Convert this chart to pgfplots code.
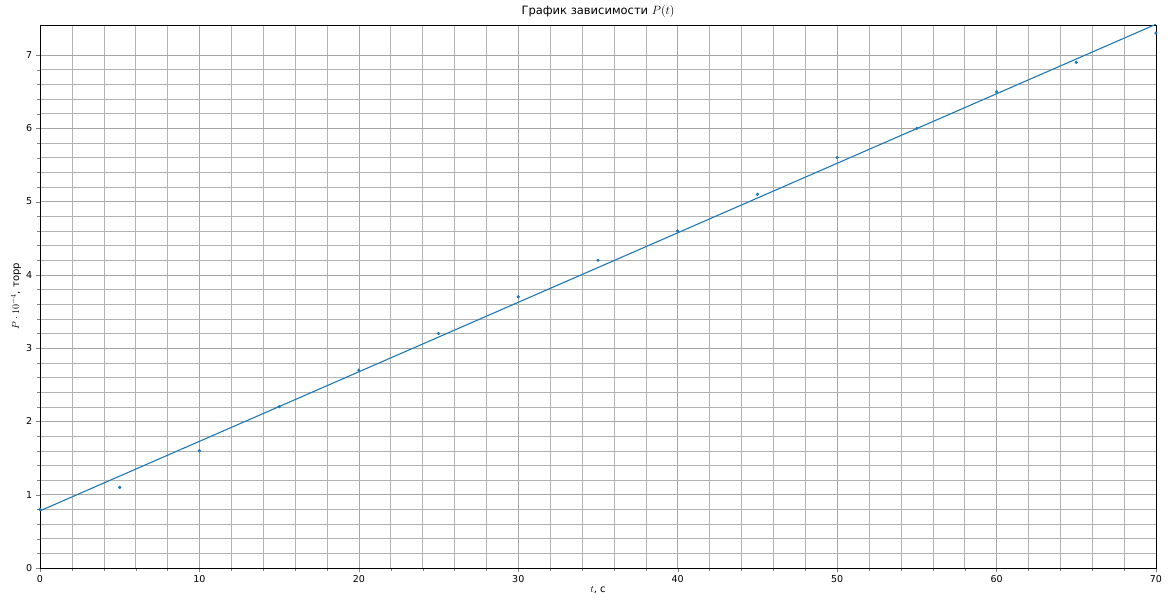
\documentclass[border=0pt]{standalone}
\usepackage{pgfplots}
\pgfplotsset{compat=1.18}
\usepackage{fontspec}
\setmainfont{DejaVu Sans}
\definecolor{mplblue}{HTML}{1F77B4}
\begin{document}
\begin{tikzpicture}
\begin{axis}[
  scale only axis, width=1116pt, height=543pt, anchor=south west, at={(0,0)},
  xmin=0, xmax=70, ymin=0, ymax=7.41,
  xtick={0,10,...,70}, ytick={0,1,...,7},
  minor x tick num=4, minor y tick num=4,
  grid=both,
  major grid style={color=black!35, line width=0.6pt},
  minor grid style={color=black!30, line width=0.5pt},
  tick align=outside, tick pos=left,
  ticklabel style={font=\fontsize{9.5}{11}\selectfont},
  /pgf/number format/assume math mode=true,
  title={\fontsize{11.5}{13}\selectfont График зависимости $P(t)$},
  title style={yshift=-2pt},
  xlabel={\fontsize{10}{12}\selectfont $t$, с}, ylabel={\fontsize{10}{12}\selectfont $P\cdot10^{-4}$, торр},
  xlabel style={yshift=4pt}, ylabel style={yshift=-2pt},
]
\addplot[only marks, mark=*, mark size=1.4pt, color=mplblue] coordinates {
(0,0.8)(5,1.1)(10,1.6)(15,2.2)(20,2.7)(25,3.2)(30,3.7)(35,4.2)(40,4.6)(45,5.1)(50,5.6)(55,6.0)(60,6.5)(65,6.9)(70,7.3)};
\addplot[color=mplblue, line width=1.1pt] coordinates {(0,0.78)(70,7.42)};
\end{axis}
\path[use as bounding box] (-40pt,-42pt) rectangle (1129pt,568pt);
\end{tikzpicture}
\end{document}
